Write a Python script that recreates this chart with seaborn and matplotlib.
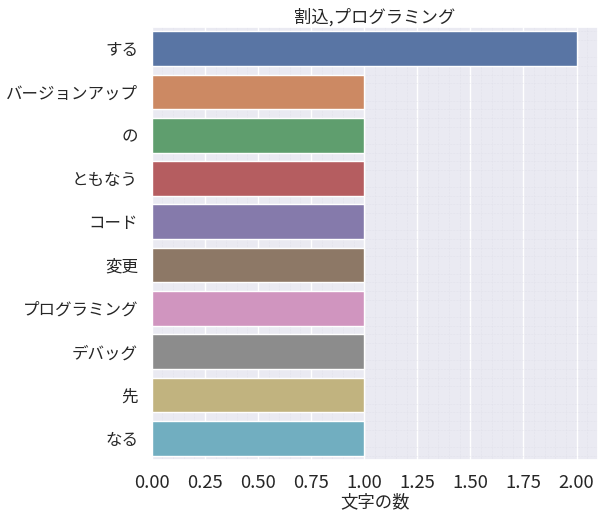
import matplotlib
matplotlib.use("Agg")
import matplotlib.pyplot as plt
from matplotlib.ticker import MultipleLocator
import seaborn as sns
import pandas as pd

# 単語と出現数
words = ["する", "バージョンアップ", "の", "ともなう", "コード", "変更",
         "プログラミング", "デバッグ", "先", "なる"]
counts = [2, 1, 1, 1, 1, 1, 1, 1, 1, 1]
title = "割込,プログラミング"

df = pd.DataFrame({"word": words, "count": counts})

sns.set_theme(style="darkgrid", font_scale=1.4)
plt.rcParams["font.family"] = ["Noto Sans CJK JP", "DejaVu Sans"]

fig, ax = plt.subplots(figsize=(6.05, 5.18), dpi=100)
sns.barplot(data=df, x="count", y="word", hue="word", palette="deep",
            legend=False, ax=ax)

ax.xaxis.set_major_locator(MultipleLocator(0.25))
ax.minorticks_on()
ax.grid(which="minor", linestyle=":", linewidth=0.4, color="#dcdce6")
ax.tick_params(which="minor", length=0)
ax.set_title(title, fontsize=12.5, pad=3)
ax.set_xlabel("文字の数", fontsize=12.5, labelpad=1)
ax.set_ylabel("")
ax.tick_params(axis="x", labelsize=13.3, pad=4)
ax.tick_params(axis="y", labelsize=11.9, pad=4)

plt.subplots_adjust(left=0.251, right=0.988, top=0.948, bottom=0.112)
plt.savefig("out.png", dpi=100)
